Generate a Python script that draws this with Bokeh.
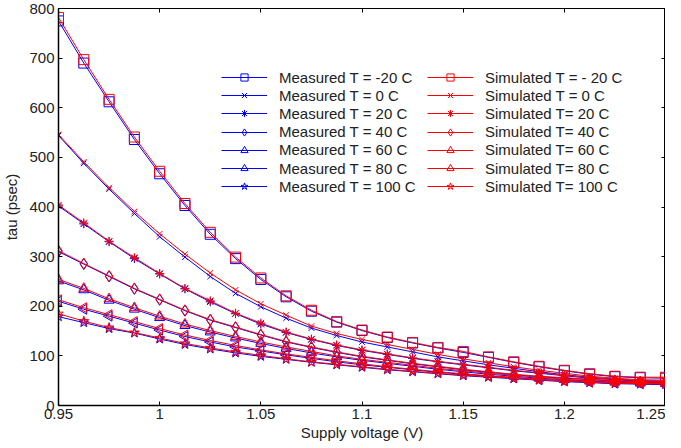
import numpy as np
from bokeh.plotting import figure
from bokeh.models import Legend, LegendItem, LinearAxis, FixedTicker, Range1d
from bokeh.embed import file_html
from bokeh.resources import INLINE

voltage = [0.95, 0.9625, 0.975, 0.9875, 1.0, 1.0125, 1.025, 1.0375, 1.05, 1.0625,
           1.075, 1.0875, 1.1, 1.1125, 1.125, 1.1375, 1.15, 1.1625, 1.175, 1.1875,
           1.2, 1.2125, 1.225, 1.2375, 1.25]

meas_m20 = [775, 690, 612, 536, 467, 403, 345, 296, 254, 219, 190, 168, 151, 137, 126, 116, 107, 97, 87, 78, 70, 63, 58, 56, 55]
sim_m20 = [782, 697, 617, 541, 472, 407, 349, 299, 257, 221, 192, 169, 152, 138, 127, 117, 109, 98, 88, 79, 71, 64, 59, 57, 57]
meas_0 = [544, 488, 436, 387, 340, 299, 260, 226, 199, 176, 156, 141, 128, 118, 108, 98, 90, 82, 75, 68, 62, 57, 53, 50, 49]
sim_0 = [546, 491, 439, 391, 346, 305, 267, 233, 205, 182, 160, 145, 133, 123, 113, 103, 94, 86, 78, 71, 65, 59, 55, 52, 51]
meas_20 = [402, 366, 330, 296, 265, 235, 209, 185, 164, 147, 133, 121, 111, 103, 95, 88, 82, 76, 70, 65, 60, 55, 52, 49, 48]
sim_20 = [404, 368, 331, 298, 266, 236, 211, 186, 166, 148, 134, 122, 112, 104, 96, 89, 83, 77, 71, 66, 61, 56, 53, 50, 49]
meas_40 = [310, 285, 260, 235, 213, 191, 172, 157, 142, 128, 117, 107, 98, 91, 84, 78, 72, 67, 62, 58, 55, 52, 49, 47, 46]
sim_40 = [312, 286, 261, 236, 214, 192, 173, 158, 143, 129, 118, 108, 99, 92, 85, 79, 73, 68, 63, 59, 56, 53, 50, 48, 47]
meas_60 = [251, 233, 212, 194, 177, 161, 148, 136, 125, 115, 106, 98, 91, 85, 79, 73, 68, 63, 59, 55, 52, 49, 47, 45, 44]
sim_60 = [254, 236, 215, 197, 180, 164, 151, 139, 128, 118, 109, 100, 93, 87, 81, 75, 70, 65, 61, 57, 53, 50, 48, 46, 45]
meas_80 = [210, 194, 180, 166, 152, 139, 128, 118, 110, 102, 95, 88, 82, 77, 72, 67, 63, 59, 56, 52, 50, 47, 45, 44, 43]
sim_80 = [213, 197, 183, 169, 155, 142, 131, 121, 112, 104, 97, 90, 84, 78, 73, 68, 64, 60, 57, 53, 50, 48, 46, 45, 44]
meas_100 = [179, 167, 155, 146, 134, 123, 114, 106, 99, 93, 87, 82, 77, 72, 68, 64, 60, 57, 54, 51, 48, 46, 44, 43, 42]
sim_100 = [185, 170, 157, 147, 136, 125, 116, 108, 101, 94, 88, 83, 78, 73, 69, 65, 61, 58, 55, 52, 49, 47, 45, 44, 43]

meas_labels = ["Measured T = -20 C", "Measured T = 0 C", "Measured T = 20 C", "Measured T = 40 C",
               "Measured T = 60 C", "Measured T = 80 C", "Measured T = 100 C"]
sim_labels = ["Simulated T = - 20 C", "Simulated T = 0 C", "Simulated T= 20 C", "Simulated T= 40 C",
              "Simulated T= 60 C", "Simulated T= 80 C", "Simulated T= 100 C"]

x_ticks = [0.95, 1.0, 1.05, 1.1, 1.15, 1.2, 1.25]
y_ticks = [0, 100, 200, 300, 400, 500, 600, 700, 800]

meas_series = [meas_m20, meas_0, meas_20, meas_40, meas_60, meas_80, meas_100]
sim_series = [sim_m20, sim_0, sim_20, sim_40, sim_60, sim_80, sim_100]
markers = ["square", "x", "asterisk", "diamond", "triangle", "triangle", "star"]
angles = [0, 0, 0, 0, 0, np.pi / 2, 0]
sizes = [10, 8, 9, 11, 10, 10, 10]

FONT = "Liberation Sans"
FS = "15px"

p = figure(width=665, height=444, output_backend="svg", toolbar_location=None,
           x_range=Range1d(0.95, 1.25), y_range=Range1d(0, 800),
           min_border_left=0, min_border_right=0, min_border_top=8, min_border_bottom=39)
p.grid.visible = False
p.outline_line_color = "black"
p.outline_line_width = 1

for ax in (p.xaxis[0], p.yaxis[0]):
    ax.major_tick_in = 4
    ax.major_tick_out = 0
    ax.minor_tick_line_color = None
    ax.major_label_text_font = FONT
    ax.major_label_text_font_size = FS
    ax.major_label_text_color = "#222222"
    ax.axis_label_text_font = FONT
    ax.axis_label_text_font_size = "15px"
    ax.axis_label_text_font_style = "normal"
    ax.axis_label_text_color = "#222222"
    ax.axis_line_width = 1.5
p.xaxis[0].ticker = FixedTicker(ticks=x_ticks)
p.yaxis[0].ticker = FixedTicker(ticks=y_ticks)
p.xaxis[0].axis_label = "Supply voltage (V)"
p.yaxis[0].axis_label = "tau (psec)"
p.xaxis[0].major_label_standoff = 3
p.xaxis[0].axis_label_standoff = 2
p.yaxis[0].major_label_standoff = 4
p.yaxis[0].axis_label_standoff = 6

for loc, ticks in (("above", x_ticks), ("right", y_ticks)):
    a = LinearAxis(ticker=FixedTicker(ticks=ticks))
    a.major_tick_in = 4
    a.major_tick_out = 0
    a.minor_tick_line_color = None
    a.major_label_text_font_size = "0px"
    a.major_label_text_alpha = 0
    a.major_label_standoff = 0
    a.axis_line_color = "black"
    p.add_layout(a, loc)

legend_rows = []
for color, series, labels, xoff in (("#0000FF", meas_series, meas_labels, 163),
                                     ("#FF0000", sim_series, sim_labels, 369)):
    for k, (ys, mk, ang, sz, lab) in enumerate(zip(series, markers, angles, sizes, labels)):
        lr = p.line(voltage, ys, line_color=color, line_width=1)
        sr = p.scatter(voltage, ys, marker=mk, angle=ang, size=sz, line_color=color,
                       fill_color=None, line_width=1)
        legend_rows.append((LegendItem(label=lab, renderers=[sr, lr]), xoff, 319 - k * 18.2))

# one legend per row: keeps each row's glyph colour intact in the SVG output
for item, xoff, yoff in legend_rows:
    lg = Legend(items=[item], location=(xoff, yoff), orientation="vertical")
    lg.border_line_alpha = 0
    lg.background_fill_alpha = 0
    lg.padding = 0
    lg.margin = 0
    lg.spacing = 0
    lg.glyph_width = 46
    lg.glyph_height = 18
    lg.label_height = 18
    lg.label_standoff = 12
    lg.label_text_font = FONT
    lg.label_text_font_size = FS
    lg.label_text_color = "#222222"
    lg.label_text_baseline = "middle"
    p.add_layout(lg, "center")

open("out.html", "w").write(file_html(p, INLINE))
